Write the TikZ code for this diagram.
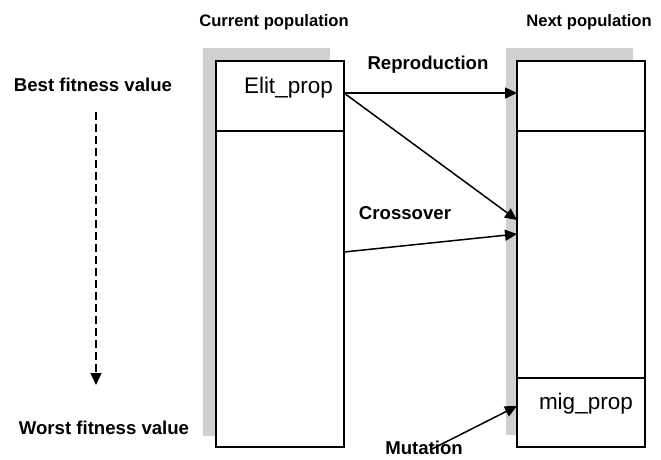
\documentclass[tikz,border=0pt]{standalone}
\usepackage{fontspec}
\setmainfont{Liberation Sans}
\usetikzlibrary{arrows.meta}
\definecolor{shadegray}{RGB}{208,208,208}
\begin{document}
\begin{tikzpicture}[x=1pt,y=-1pt,
  boxpart/.style={draw=black,line width=1.3pt,fill=white,inner sep=0pt,outer sep=0pt,anchor=north west,minimum width=128pt},
  head/.style={font=\fontsize{16.6}{19}\selectfont\bfseries,inner sep=0pt},
  lab/.style={font=\fontsize{18.6}{21}\selectfont\bfseries,inner sep=0pt},
  boxtext/.style={font=\fontsize{22.5}{26}\selectfont,inner sep=0pt},
  conn/.style={line width=1.5pt,-{Triangle[length=12pt,width=11pt]}}]
\useasboundingbox (0,0) rectangle (661,459);
% shadows
\fill[shadegray] (203,48) rectangle (330,436);
\fill[shadegray] (506,48) rectangle (633,435);
% current population
\node[boxpart,minimum height=70pt] (curtop) at (216,61) {};
\node[boxpart,minimum height=316pt] (currest) at (216,131) {};
% next population
\node[boxpart,minimum height=70pt] (nexttop) at (517,61) {};
\node[boxpart,minimum height=247pt] (nextmid) at (517,131) {};
\node[boxpart,minimum height=69pt] (nextmig) at (517,378) {};
% box texts
\node[boxtext,anchor=base east] (elit) at (333,93) {Elit\_prop};
\node[boxtext,anchor=base east] (mig) at (633,409) {mig\_prop};
% headings
\node[head] (curhead) at (274,22) {Current population};
\node[head] (nexthead) at (589,22) {Next population};
\node[lab] (best) at (93,85) {Best fitness value};
\node[lab] (worst) at (104,428) {Worst fitness value};
\node[lab] (repro) at (428,65) {Reproduction};
\node[lab] (cross) at (405,213) {Crossover};
\node[lab] (mut) at (424,448) {Mutation};
% connector end points
\coordinate (elitout) at (344,93);
\coordinate (reproin) at (517,93);
\coordinate (cross1in) at (517,220);
\coordinate (cross2out) at (344,252);
\coordinate (cross2in) at (517,234);
\coordinate (mutout) at (430,450);
\coordinate (mutin) at (517,406);
\coordinate (fitA) at (96,112);
\coordinate (fitB) at (96,385);
% connectors
\draw[conn] (elitout) -- (reproin);
\draw[conn] (elitout) -- (cross1in);
\draw[conn] (cross2out) -- (cross2in);
\draw[conn] (mutout) -- (mutin);
\draw[line width=1.5pt,dash pattern=on 8pt off 4pt,-{Triangle[length=12pt,width=11pt]}] (fitA) -- (fitB);
\end{tikzpicture}
\end{document}
